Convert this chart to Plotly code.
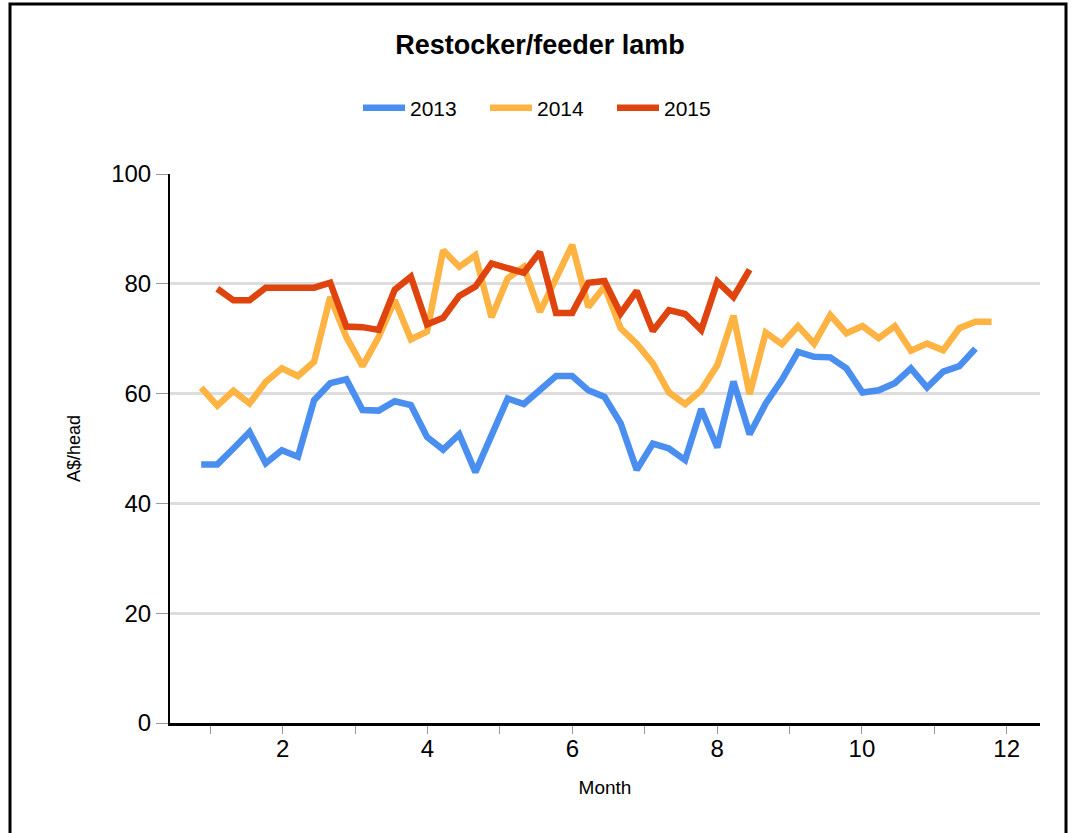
import plotly.graph_objects as go

# Weekly observations placed on a month axis
week_start_month = 0.874   # month position of the first weekly observation
week_step_month = 0.2228   # one week expressed in months

v2013 = [47.1, 47.1, 50.0, 53.0, 47.3, 49.7, 48.5, 58.8, 61.9, 62.6,
         57.0, 56.9, 58.6, 57.9, 52.1, 49.8, 52.6, 45.7, 52.4, 59.1,
         58.1, 60.6, 63.2, 63.2, 60.6, 59.4, 54.6, 46.1, 50.9, 50.0,
         47.9, 57.2, 50.2, 62.2, 52.6, 58.2, 62.5, 67.6, 66.7, 66.6,
         64.6, 60.2, 60.6, 61.9, 64.6, 61.1, 64.0, 65.0, 68.2]
v2014 = [61.1, 57.8, 60.5, 58.2, 62.1, 64.6, 63.2, 65.8, 77.6, 70.3,
         65.0, 70.3, 77.0, 69.9, 71.3, 86.1, 83.1, 85.2, 73.9, 81.0,
         83.1, 74.9, 81.0, 87.1, 75.8, 79.5, 71.9, 69.1, 65.5, 60.2,
         58.1, 60.6, 65.2, 74.2, 59.9, 71.1, 69.0, 72.3, 69.1, 74.3,
         71.0, 72.3, 70.1, 72.3, 67.8, 69.1, 67.9, 71.9, 73.1, 73.1]
v2015 = [79.1, 77.0, 77.0, 79.3, 79.3, 79.3, 79.3, 80.2, 72.2, 72.1,
         71.6, 78.9, 81.3, 72.6, 73.8, 77.8, 79.5, 83.7, 82.8, 82.0,
         85.8, 74.7, 74.7, 80.2, 80.5, 74.6, 78.7, 71.4, 75.2, 74.5,
         71.6, 80.4, 77.6, 82.6]
first_week = {"2013": 0, "2014": 0, "2015": 1}

series_names = ["2013", "2014", "2015"]
series_values = [v2013, v2014, v2015]
series_colors = ["#4a8ef0", "#ffb343", "#e0440e"]

x_tick_vals = list(range(1, 13))
x_tick_text = [str(m) if m % 2 == 0 else "" for m in x_tick_vals]
y_tick_vals = [0, 20, 40, 60, 80, 100]


def week_months(n, first):
    return [week_start_month + (first + i) * week_step_month for i in range(n)]


FONT = "Arial, 'Liberation Sans', sans-serif"

fig = go.Figure()
for name, vals, col in zip(series_names, series_values, series_colors):
    fig.add_trace(go.Scatter(
        x=week_months(len(vals), first_week[name]), y=vals, name=name,
        mode="lines", line=dict(color=col, width=6.5),
        hovertemplate="Month %{x:.2f}<br>%{y:.1f} A$/head<extra>" + name + "</extra>",
    ))

W, H = 1075, 833
ml, mr, mt, mb = 170, 35, 174, 110
pw, ph = W - ml - mr, H - mt - mb


def px_x(p):
    return (p - ml) / pw


def px_y(p):
    return (H - mb - p) / ph


fig.update_layout(
    width=W, height=H,
    margin=dict(l=ml, r=mr, t=mt, b=mb, pad=0),
    paper_bgcolor="white", plot_bgcolor="white",
    font=dict(family=FONT, color="#000000"),
    title=dict(text="<b>Restocker/feeder lamb</b>", x=540 / W, xanchor="center",
               xref="container", y=1 - 45 / H, yanchor="middle", yref="container",
               font=dict(size=27, family=FONT, color="#000000")),
    showlegend=True,
    legend=dict(orientation="h", x=px_x(358), xanchor="left", y=px_y(108), yanchor="middle",
                font=dict(size=21, family=FONT), itemwidth=42,
                entrywidth=70, entrywidthmode="pixels",
                bgcolor="rgba(0,0,0,0)", traceorder="normal"),
    xaxis=dict(range=[(ml - 137.9) / 72.4, (ml + pw - 137.9) / 72.4],
               tickmode="array", tickvals=x_tick_vals, ticktext=x_tick_text,
               ticks="outside", ticklen=8, tickwidth=1, tickcolor="#999999",
               ticklabelstandoff=-6,
               tickfont=dict(size=24, family=FONT, color="#000000"),
               showgrid=False, zeroline=False,
               showline=True, linecolor="#000000", linewidth=3,
               title=dict(text="Month", font=dict(size=19, family=FONT), standoff=20)),
    yaxis=dict(range=[0, 100], tickmode="array", tickvals=y_tick_vals,
               ticks="outside", ticklen=12, tickwidth=1, tickcolor="#999999",
               tickfont=dict(size=24, family=FONT, color="#000000"),
               showgrid=True, gridcolor="#dddddd", gridwidth=3, zeroline=False,
               showline=True, linecolor="#000000", linewidth=2,
               title=dict(text="A$/head", font=dict(size=18, family=FONT), standoff=26)),
    shapes=[dict(type="rect", xref="paper", yref="paper",
                 x0=px_x(10), x1=px_x(1066), y0=px_y(845), y1=px_y(4),
                 line=dict(color="#000000", width=3), fillcolor="rgba(0,0,0,0)", layer="above")],
)

fig.write_html("out.html", config={"displayModeBar": False},
               post_script="document.body.style.margin='0';document.body.style.overflow='hidden';")
